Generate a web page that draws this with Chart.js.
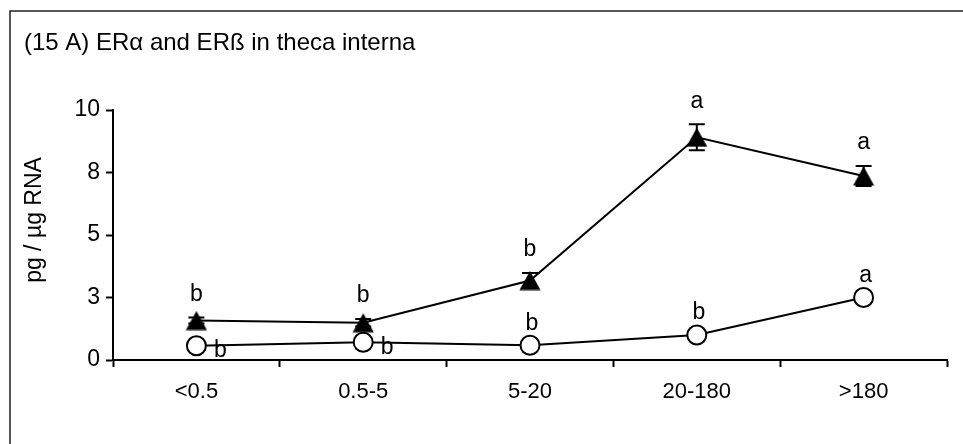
<!DOCTYPE html>
<html>
<head>
<meta charset="utf-8">
<script src="https://cdn.jsdelivr.net/npm/chart.js@4.4.1/dist/chart.umd.min.js"></script>
<style>
html,body{margin:0;padding:0;background:#fff;}
#wrap{width:963px;height:444px;position:relative;}
</style>
</head>
<body>
<div id="wrap"><canvas id="c" width="963" height="444"></canvas></div>
<script>
const categories = ['<0.5', '0.5-5', '5-20', '20-180', '>180'];
const erTriangle = [1.58, 1.49, 3.18, 8.91, 7.36];
const erTriangleErr = [0.12, 0.15, 0.3, 0.52, 0.4];
const erCircle = [0.57, 0.71, 0.59, 1.0, 2.5];
const triLetters = ['b', 'b', 'b', 'a', 'a'];
const circLetters = ['b', 'b', 'b', 'b', 'a'];
const yTicks = [0, 2.5, 5, 7.5, 10];
const titleText = '(15 A) ER\u03B1 and ER\u00DF in theca interna';
const yTitle = 'pg / \u00B5g RNA';

const FONT = '"Liberation Sans", Arial, sans-serif';
const circPlace = ['belowRight', 'belowRight', 'above', 'above', 'above'];

// triangle marker centred on its bounding box
const triMarker = document.createElement('canvas');
triMarker.width = 22; triMarker.height = 20;
(function () {
  const g = triMarker.getContext('2d');
  g.fillStyle = '#000';
  g.beginPath();
  g.moveTo(11, 0.5);
  g.lineTo(21.5, 19.5);
  g.lineTo(0.5, 19.5);
  g.closePath();
  g.fill();
})();

const decor = {
  id: 'decor',
  beforeDraw(chart) {
    const ctx = chart.ctx;
    ctx.save();
    ctx.fillStyle = '#fff';
    ctx.fillRect(0, 0, chart.width, chart.height);
    ctx.strokeStyle = '#222';
    ctx.lineWidth = 1.5;
    ctx.beginPath();
    ctx.moveTo(10, chart.height);
    ctx.lineTo(10, 11);
    ctx.lineTo(chart.width, 11);
    ctx.stroke();
    ctx.fillStyle = '#000';
    ctx.font = '24px ' + FONT;
    ctx.textBaseline = 'alphabetic';
    ctx.textAlign = 'left';
    ctx.fillText(titleText, 24, 50);
    ctx.translate(35, 220);
    ctx.rotate(-Math.PI / 2);
    ctx.font = '23px ' + FONT;
    ctx.textAlign = 'center';
    ctx.textBaseline = 'middle';
    ctx.fillText(yTitle, 0, 0);
    ctx.restore();
  },
  beforeDatasetsDraw(chart) {
    const ctx = chart.ctx;
    const xs = chart.scales.x, ys = chart.scales.y;
    ctx.save();
    ctx.strokeStyle = '#000';
    ctx.lineWidth = 2;
    erTriangle.forEach((v, i) => {
      const e = erTriangleErr[i];
      const x = xs.getPixelForValue(i);
      const yt = ys.getPixelForValue(v + e);
      const yb = ys.getPixelForValue(v - e);
      ctx.beginPath();
      ctx.moveTo(x, yt); ctx.lineTo(x, yb);
      ctx.moveTo(x - 8, yt); ctx.lineTo(x + 8, yt);
      ctx.moveTo(x - 8, yb); ctx.lineTo(x + 8, yb);
      ctx.stroke();
    });
    ctx.restore();
  },
  afterDatasetsDraw(chart) {
    const ctx = chart.ctx;
    const xs = chart.scales.x, ys = chart.scales.y;
    ctx.save();
    ctx.fillStyle = '#000';
    ctx.font = '23px ' + FONT;
    ctx.textAlign = 'center';
    ctx.textBaseline = 'middle';
    triLetters.forEach((t, i) => {
      const x = xs.getPixelForValue(i);
      const y = ys.getPixelForValue(erTriangle[i] + erTriangleErr[i]);
      ctx.fillText(t, x, y - 23);
    });
    circLetters.forEach((t, i) => {
      const x = xs.getPixelForValue(i);
      const y = ys.getPixelForValue(erCircle[i]);
      if (circPlace[i] === 'belowRight') ctx.fillText(t, x + 24, y + 5);
      else ctx.fillText(t, x + 2, y - 22);
    });
    ctx.restore();
  }
};

new Chart(document.getElementById('c'), {
  type: 'line',
  data: {
    labels: categories,
    datasets: [
      {
        data: erTriangle,
        borderColor: '#000',
        borderWidth: 2,
        pointStyle: triMarker,
        pointRadius: 11,
        pointBackgroundColor: '#000',
        pointBorderColor: '#000',
        tension: 0
      },
      {
        data: erCircle,
        borderColor: '#000',
        borderWidth: 2,
        pointStyle: 'circle',
        pointRadius: 9.5,
        pointBackgroundColor: '#fff',
        pointBorderColor: '#000',
        pointBorderWidth: 2,
        tension: 0
      }
    ]
  },
  options: {
    responsive: false,
    animation: false,
    devicePixelRatio: 1,
    layout: { padding: { left: 0, right: 16, top: 110, bottom: 0 } },
    plugins: { legend: { display: false }, tooltip: { enabled: false }, title: { display: false } },
    scales: {
      x: {
        type: 'category',
        offset: true,
        grid: { offset: true, drawOnChartArea: false, drawTicks: true, tickLength: 7, tickColor: '#000', tickWidth: 2 },
        border: { color: '#000', width: 2 },
        ticks: { color: '#000', font: { family: FONT, size: 22 }, padding: 12, maxRotation: 0 },
        afterFit(s) { s.height = 84; }
      },
      y: {
        min: 0, max: 10,
        afterBuildTicks(s) { s.ticks = yTicks.map(v => ({ value: v })); },
        grid: { drawOnChartArea: false, drawTicks: true, tickLength: 7, tickColor: '#000', tickWidth: 2 },
        border: { color: '#000', width: 2 },
        ticks: { color: '#000', font: { family: FONT, size: 23 }, padding: 6, callback: v => String(Math.round(v)) },
        title: { display: false },
        afterFit(s) { s.width = 113; }
      }
    }
  },
  plugins: [decor]
});
</script>
</body>
</html>
